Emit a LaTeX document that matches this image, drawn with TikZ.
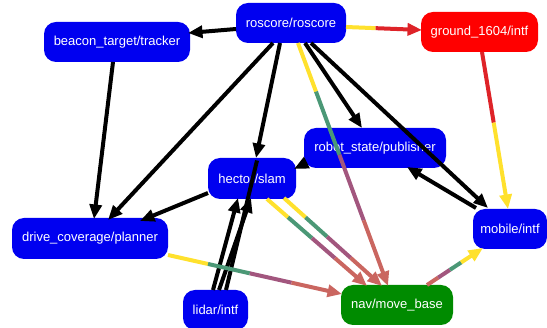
\documentclass[tikz,border=0pt]{standalone}
\usepackage{fontspec}
\setmainfont{Liberation Sans}
\usetikzlibrary{arrows.meta,calc}

\definecolor{nblue}{RGB}{0,0,240}
\definecolor{nred}{RGB}{255,0,0}
\definecolor{ngreen}{RGB}{0,139,0}
\definecolor{eyellow}{RGB}{255,225,45}
\definecolor{ered}{RGB}{222,35,40}
\definecolor{egreen}{RGB}{75,152,118}
\definecolor{epurple}{RGB}{162,86,126}
\definecolor{esalmon}{RGB}{202,102,96}

% edge split into four coloured stretches: start, end, three split fractions, four colours
\newcommand\tintedge[9]{%
  \draw[link,draw=#6] (#1) -- ($(#1)!#3!(#2)$);
  \draw[link,draw=#7] ($(#1)!#3!(#2)$) -- ($(#1)!#4!(#2)$);
  \draw[link,draw=#8] ($(#1)!#4!(#2)$) -- ($(#1)!#5!(#2)$);
  \draw[link,draw=#9,fill=#9,tip] ($(#1)!#5!(#2)$) -- (#2);}
% edge split into two coloured stretches
\newcommand\duoedge[5]{%
  \draw[link,draw=#4] (#1) -- ($(#1)!#3!(#2)$);
  \draw[link,draw=#5,fill=#5,tip] ($(#1)!#3!(#2)$) -- (#2);}

\begin{document}
\begin{tikzpicture}[x=1pt,y=-1pt,
  box/.style={rounded corners=12pt, fill=nblue, text=white, inner sep=0pt,
    minimum height=40pt, font=\fontsize{13}{15}\selectfont},
  link/.style={line width=4pt, draw=black},
  tip/.style={-{Triangle[length=14.5pt,width=12pt]}},
]
\useasboundingbox (0,0) rectangle (547,328);

% nodes
\node[box, minimum width=110pt] (roscore) at (291,23) {roscore/roscore};
\node[box, minimum width=146pt] (beacon) at (117,42) {beacon\_target/tracker};
\node[box, minimum width=117pt, fill=nred] (ground) at (479.5,32) {ground\_1604/intf};
\node[box, minimum width=142pt] (publisher) at (375,148) {robot\_state/publisher};
\node[box, minimum width=88pt, minimum height=41pt] (hector) at (252,178.5) {hector/slam};
\node[box, minimum width=156pt, minimum height=41pt] (planner) at (90,238.5) {drive\_coverage/planner};
\node[box, minimum width=65pt] (lidar) at (215.5,310) {lidar/intf};
\node[box, minimum width=112pt, fill=ngreen] (movebase) at (397,305) {nav/move\_base};
\node[box, minimum width=74pt] (mobile) at (510,229) {mobile/intf};

% black connectors
\draw[link,tip] ($(roscore)+(-55,6)$) -- ($(beacon)+(71,-9)$);
\draw[link,tip] ($(roscore)+(-18,20)$) -- ($(planner)+(18,-18.5)$);
\draw[link,tip] ($(beacon)+(-4,20)$) -- ($(planner)+(4,-19.5)$);
\draw[link,tip] ($(roscore)+(-11,20)$) -- ($(hector)+(4,-20.5)$);
\draw[link,tip] ($(roscore)+(14,20)$) -- ($(publisher)+(-13,-20)$);
\draw[link,tip] ($(roscore)+(20,20)$) -- ($(mobile)+(-22,-21)$);
\draw[link,tip] ($(mobile)+(-34,-21)$) -- ($(publisher)+(32,19)$);
\draw[link,tip] ($(publisher)+(-69,15)$) -- ($(hector)+(42,-9.5)$);
\draw[link,tip] ($(hector)+(-44,14.5)$) -- ($(planner)+(50,-17.5)$);
\draw[link,tip] ($(lidar)+(-2.5,-20)$) -- ($(hector)+(-14,19.5)$);
\draw[link,tip] ($(lidar)+(3.5,-20)$) -- ($(hector)+(-1,19.5)$);
\draw[link] ($(lidar)+(10.5,-20)$) -- ($(hector)+(5,-18)$);

% coloured connectors
\coordinate (a1) at ($(roscore)+(55,4)$);
\coordinate (a2) at ($(ground)+(-57.5,-2)$);
\duoedge{a1}{a2}{0.39}{eyellow}{ered}

\coordinate (b1) at ($(ground)+(2.5,20)$);
\coordinate (b2) at ($(mobile)+(-2,-20)$);
\duoedge{b1}{b2}{0.45}{ered}{eyellow}

\coordinate (c1) at ($(roscore)+(7,20)$);
\coordinate (c2) at ($(movebase)+(-9,-19)$);
\tintedge{c1}{c2}{0.2}{0.46}{0.73}{eyellow}{egreen}{epurple}{esalmon}

\coordinate (d1) at ($(hector)+(15,20.5)$);
\coordinate (d2) at ($(movebase)+(-30,-19)$);
\tintedge{d1}{d2}{0.21}{0.45}{0.68}{eyellow}{egreen}{epurple}{esalmon}

\coordinate (e1) at ($(hector)+(32,19.5)$);
\coordinate (e2) at ($(movebase)+(-15,-19)$);
\tintedge{e1}{e2}{0.22}{0.44}{0.68}{eyellow}{egreen}{epurple}{esalmon}

\coordinate (f1) at ($(planner)+(78,16.5)$);
\coordinate (f2) at ($(movebase)+(-55,-11)$);
\tintedge{f1}{f2}{0.23}{0.47}{0.71}{eyellow}{egreen}{epurple}{esalmon}

\coordinate (g1) at ($(movebase)+(30,-20)$);
\coordinate (g2) at ($(mobile)+(-27,19)$);
\tintedge{g1}{g2}{0.2}{0.41}{0.61}{esalmon}{epurple}{egreen}{eyellow}
\end{tikzpicture}
\end{document}
